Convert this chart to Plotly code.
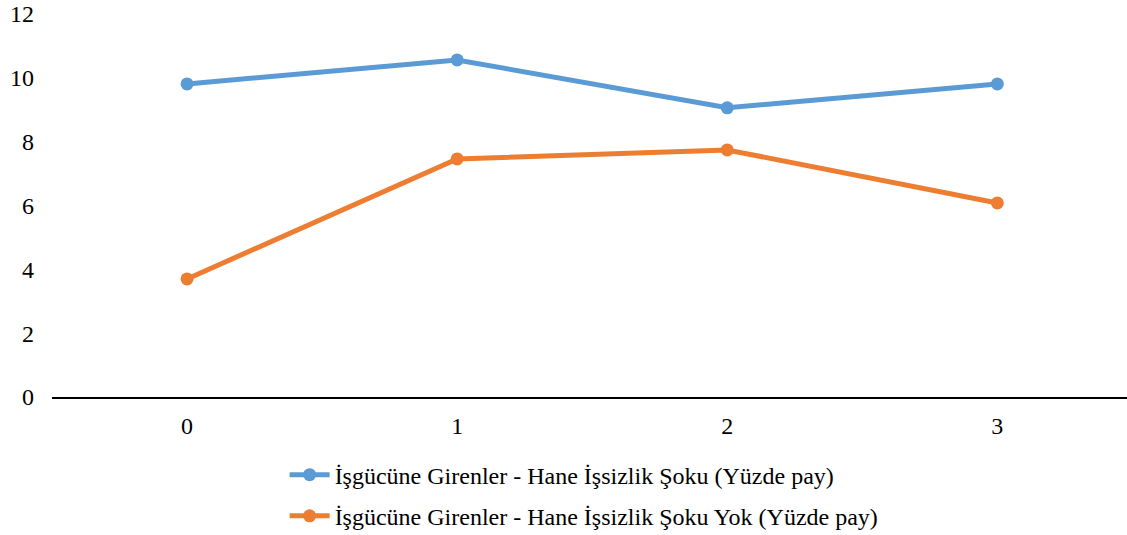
import plotly.graph_objects as go

categories = [0, 1, 2, 3]
tick_labels = ["0", "1", "2", "3"]
y_ticks = [0, 2, 4, 6, 8, 10, 12]
series_a_name = "İşgücüne Girenler - Hane İşsizlik Şoku (Yüzde pay)"
series_a = [9.81, 10.56, 9.06, 9.81]
series_b_name = "İşgücüne Girenler - Hane İşsizlik Şoku Yok (Yüzde pay)"
series_b = [3.70, 7.46, 7.74, 6.08]

font_family = "Liberation Serif"

fig = go.Figure()
fig.add_trace(go.Scatter(
    x=categories, y=series_a, name=series_a_name, mode="lines+markers",
    legendgroup="a",
    line=dict(color="#5B9BD5", width=5), marker=dict(size=13, color="#5B9BD5"),
))
fig.add_trace(go.Scatter(
    x=categories, y=series_b, name=series_b_name, mode="lines+markers",
    legendgroup="b",
    line=dict(color="#ED7D31", width=5), marker=dict(size=13, color="#ED7D31"),
))

fig.update_layout(
    width=1127, height=535,
    margin=dict(l=52, r=0, t=14, b=138, autoexpand=False),
    paper_bgcolor="white", plot_bgcolor="white",
    font=dict(family=font_family, size=24, color="black"),
    showlegend=True,
    legend=dict(orientation="v", x=0.495, xanchor="center",
                y=-0.145, yanchor="top",
                font=dict(size=24), tracegroupgap=7, itemwidth=40),
    xaxis=dict(range=[-0.5, 3.48], tickvals=categories, ticktext=tick_labels,
               showgrid=False, zeroline=False, showline=True, linecolor="black",
               linewidth=2, ticks="", ticklabelstandoff=6, automargin=False,
               ticklabeloverflow="allow"),
    yaxis=dict(range=[0, 12], tickvals=y_ticks, showgrid=False,
               zeroline=False, showline=False, ticks="", ticklabelstandoff=17,
               automargin=False, ticklabeloverflow="allow"),
)

# remove the default page margin so the figure fills the window exactly
fig.write_html("out.html",
               config={"displayModeBar": False},
               post_script="document.body.style.margin='0';document.body.style.overflow='hidden';")
